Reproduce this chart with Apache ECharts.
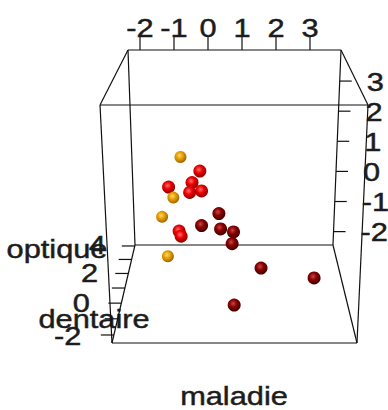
<!DOCTYPE html>
<html><head><meta charset="utf-8">
<script src="https://cdn.jsdelivr.net/npm/echarts@6/dist/echarts.min.js"></script>
<style>html,body{margin:0;padding:0;background:#fff}#c{width:388px;height:410px}</style>
</head><body><div id="c"></div>
<script>
// ---- data ----
const xTickValues = [-2, -1, 0, 1, 2, 3];
const xTickLabels = ['-2', '-1', '0', '1', '2', '3'];
const yTickValues = [-2, -1, 0, 1, 2, 3];
const yTickLabels = ['-2', '-1', '0', '1', '2', '3'];
const zTickValues = [-2, -1, 0, 1, 2, 3, 4];
const zLabelValues = [-2, 0, 2, 4];
const zTickLabels = ['-2', '0', '2', '4'];
const axisTitles = ['maladie', 'optique', 'dentaire'];
// projected positions read on the maladie (x) and vertical (y) scales
const orangePoints = [[-0.81, 0.48], [-1.35, -1.51], [-1.18, -2.82], [-1.02, -0.87]];
const redPoints = [[-0.24, 0.01], [-1.16, -0.52], [-0.47, -0.37], [-0.19, -0.65], [-0.54, -0.70], [-0.85, -1.98], [-0.79, -2.15]];
const darkredPoints = [[0.32, -1.40], [-0.19, -1.80], [0.37, -1.91], [0.75, -2.01], [0.71, -2.40], [1.56, -3.21], [3.12, -3.54], [0.77, -4.44]];

// ---- layout / style ----
const FS = 25, SX = 1.23, FF = '"Liberation Sans", Arial, sans-serif', TC = '#1c1c1c', LC = '#111';
const corners = {
  btl: [-2.353, 4.032], btr: [3.912, 4.032], bbr: [3.676, -2.444], bbl: [-2.147, -2.444],
  ftl: [-3.176, 2.205], ftr: [4.706, 2.205], fbr: [4.382, -5.699], fbl: [-2.824, -5.699]
};
const edges = [['btl','btr'],['btl','ftl'],['btr','ftr'],['ftl','ftr'],['btl','bbl'],['btr','bbr'],
  ['bbl','bbr'],['ftl','fbl'],['ftr','fbr'],['bbl','fbl'],['bbr','fbr'],['fbl','fbr']];

function txt(str, x, y, align) {
  return { type: 'text', x: x, y: y, scaleX: SX,
    style: { text: str, fontSize: FS, fontFamily: FF, fill: TC, stroke: TC, lineWidth: 0.45,
      align: align, verticalAlign: 'middle', textAlign: align, textVerticalAlign: 'middle' } };
}
function rightEdgeX(v) {
  const a = corners.bbr, b = corners.btr;
  return a[0] + (v - a[1]) / (b[1] - a[1]) * (b[0] - a[0]);
}
function depthPoint(v) {
  const d = 4 - v;
  const t = 0.01 + 0.1347 * d + 0.00278 * d * d;
  const a = corners.bbl, b = corners.fbl;
  return [a[0] + t * (b[0] - a[0]), a[1] + t * (b[1] - a[1])];
}
function sphere(c0, c1, c2) {
  return { type: 'radial', x: 0.42, y: 0.38, r: 0.62,
    colorStops: [{ offset: 0, color: c0 }, { offset: 0.45, color: c1 }, { offset: 1, color: c2 }] };
}

const chart = echarts.init(document.getElementById('c'), null, { renderer: 'svg' });
chart.setOption({
  animation: false,
  backgroundColor: '#fff',
  grid: { left: 0, right: 0, top: 0, bottom: 0 },
  xAxis: { type: 'value', min: -208 / 34, max: 180 / 34, show: false },
  yAxis: { type: 'value', min: -238.6 / 30.11, max: 171.4 / 30.11, show: false },
  graphic: { elements: [
    txt(axisTitles[0], 234, 397, 'center'),
    txt(axisTitles[1], 57, 250, 'center'),
    txt(axisTitles[2], 94, 320, 'center')
  ] },
  series: [
    { type: 'custom', clip: false, silent: true,
      data: edges.map((e, i) => [i]),
      renderItem: (p, api) => {
        const e = edges[p.dataIndex];
        const a = api.coord(corners[e[0]]), b = api.coord(corners[e[1]]);
        return { type: 'line', shape: { x1: a[0], y1: a[1], x2: b[0], y2: b[1] }, style: { stroke: LC, lineWidth: 1.2 } };
      } },
    { type: 'custom', clip: false, silent: true,
      data: xTickValues.map((v, i) => [v, corners.btl[1], i]),
      renderItem: (p, api) => {
        const c = api.coord([api.value(0), api.value(1)]);
        return { type: 'group', children: [
          { type: 'line', shape: { x1: c[0], y1: c[1], x2: c[0], y2: c[1] - 13 }, style: { stroke: LC, lineWidth: 1.2 } },
          txt(xTickLabels[api.value(2)], c[0], c[1] - 21, 'center')] };
      } },
    { type: 'custom', clip: false, silent: true,
      data: yTickValues.map((v, i) => [rightEdgeX(v), v, i]),
      renderItem: (p, api) => {
        const c = api.coord([api.value(0), api.value(1)]);
        return { type: 'group', children: [
          { type: 'line', shape: { x1: c[0], y1: c[1], x2: c[0] + 12, y2: c[1] }, style: { stroke: LC, lineWidth: 1.2 } },
          txt(yTickLabels[api.value(2)], c[0] + 27, c[1] + 1, 'left')] };
      } },
    { type: 'custom', clip: false, silent: true,
      data: zTickValues.map((v) => depthPoint(v).concat([v])),
      renderItem: (p, api) => {
        const c = api.coord([api.value(0), api.value(1)]);
        const v = api.value(2);
        const children = [{ type: 'line', shape: { x1: c[0], y1: c[1], x2: c[0] - 13, y2: c[1] }, style: { stroke: LC, lineWidth: 1.2 } }];
        const li = zLabelValues.indexOf(v);
        if (li >= 0) children.push(txt(zTickLabels[li], c[0] - 29 - (4 - v) * 0.6, c[1] + (v < 0 ? 2 : 0), 'right'));
        return { type: 'group', children: children };
      } },
    { type: 'scatter', name: 'red', data: redPoints, symbolSize: 13,
      itemStyle: { color: sphere('#ff7070', '#ee0000', '#8a0000'), opacity: 1 } },
    { type: 'scatter', name: 'darkred', data: darkredPoints, symbolSize: 13,
      itemStyle: { color: sphere('#c04a4a', '#8b0000', '#3e0000'), opacity: 1 } },
    { type: 'scatter', name: 'orange', data: orangePoints, symbolSize: 12,
      itemStyle: { color: sphere('#ffd870', '#e8a000', '#9a6400'), opacity: 1 } }
  ]
});
</script></body></html>
